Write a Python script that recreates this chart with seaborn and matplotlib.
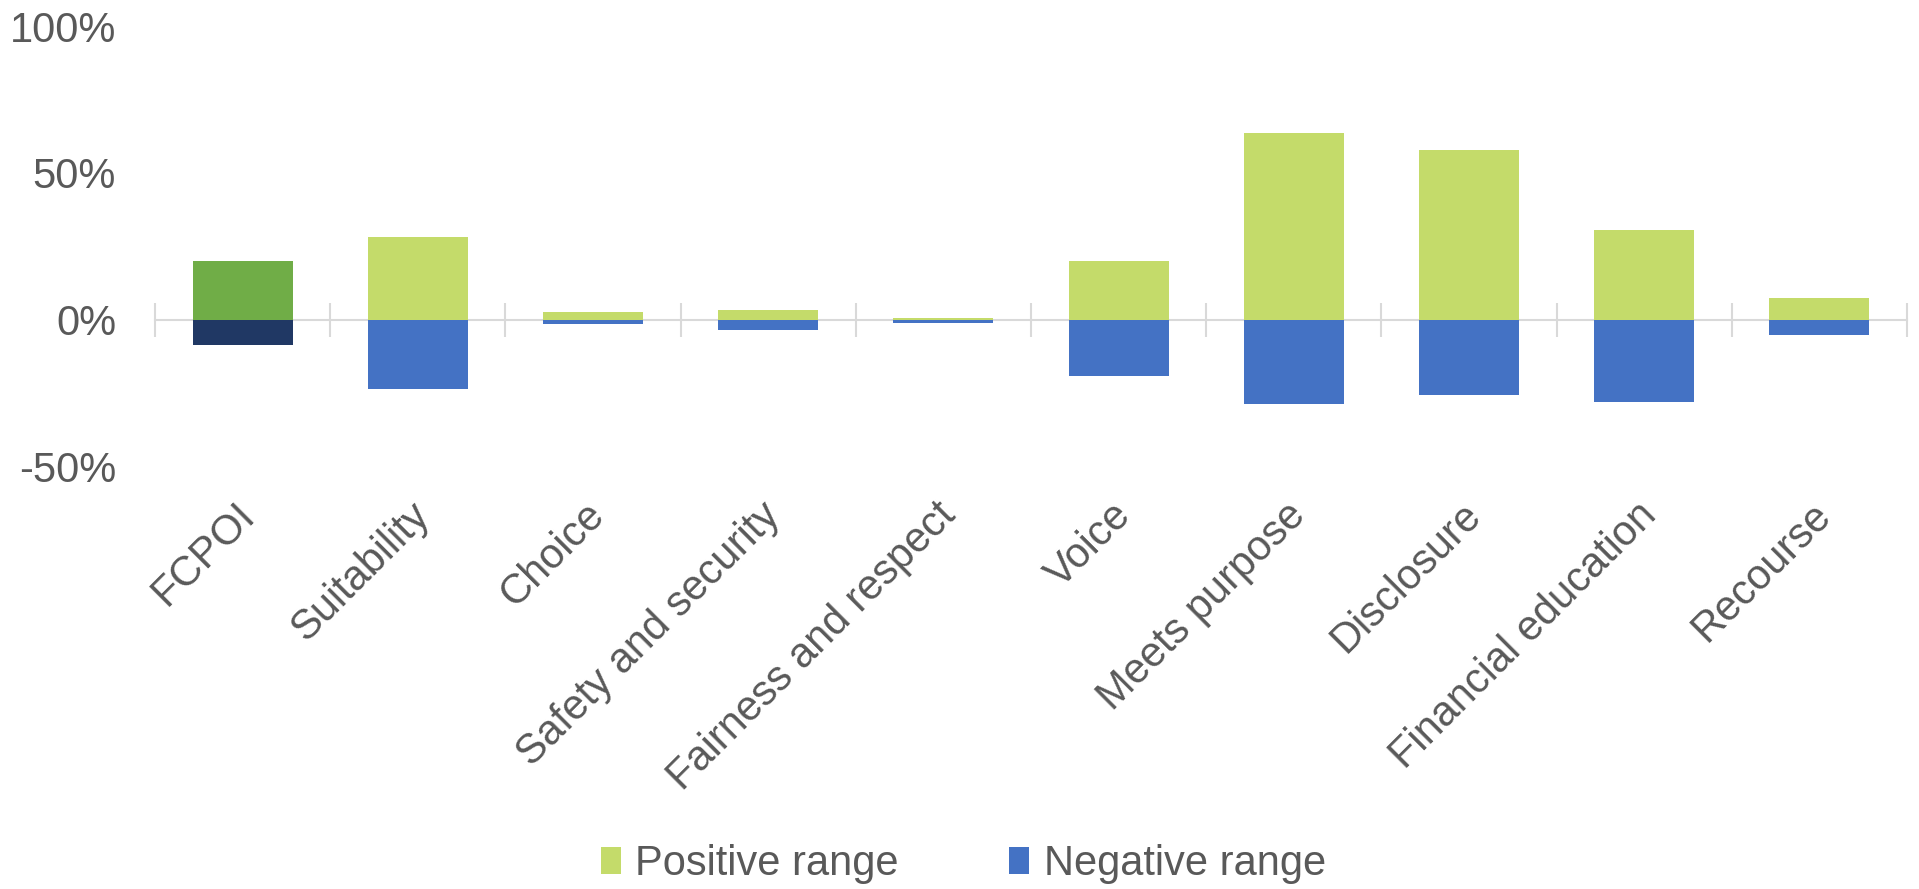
import numpy as np
import pandas as pd
import matplotlib.pyplot as plt
import matplotlib.transforms as mtransforms
import seaborn as sns

categories = ['FCPOI', 'Suitability', 'Choice', 'Safety and security',
              'Fairness and respect', 'Voice', 'Meets purpose', 'Disclosure',
              'Financial education', 'Recourse']
positive = [20.0, 28.0, 2.5, 3.2, 0.5, 20.0, 63.8, 58.0, 30.4, 7.4]
negative = [-8.6, -23.8, -1.4, -3.5, -1.2, -19.2, -28.8, -25.6, -28.0, -5.4]
series = ['Positive range', 'Negative range']
yticks = [-50, 0, 50, 100]

pos_color = '#C4DB6A'
neg_color = '#4472C4'
fcpoi_pos = '#70AD47'
fcpoi_neg = '#203864'
text_color = '#595959'
axis_color = '#D9D9D9'


def main():
  df = pd.DataFrame({
    'category': categories * 2,
    'series': [series[0]] * len(categories) + [series[1]] * len(categories),
    'value': positive + negative,
  })

  sns.set_style('white')
  plt.rcParams['font.family'] = ['Liberation Sans', 'DejaVu Sans']

  fig = plt.figure(figsize=(19.19, 8.89), dpi=100)
  ax = fig.add_axes([0.0808, 0.4758, 0.9129, 0.4944])

  sns.barplot(data=df, x='category', y='value', hue='series', dodge=False,
              palette=[pos_color, neg_color], saturation=1, width=0.57, ax=ax,
              edgecolor='none', linewidth=0)

  # FCPOI bars are drawn in darker shades
  ax.containers[0][0].set_facecolor(fcpoi_pos)
  ax.containers[1][0].set_facecolor(fcpoi_neg)

  ax.set_xlim(-0.5, len(categories) - 0.5)
  ax.set_ylim(-50, 100)
  ax.set_yticks(yticks)
  ax.set_yticklabels([f'{v}%' for v in yticks])
  ax.set_xlabel('')
  ax.set_ylabel('')
  for s in ax.spines.values():
    s.set_visible(False)

  ax.tick_params(axis='y', length=0, labelsize=30, labelcolor=text_color, pad=28)
  ax.tick_params(axis='x', length=0, labelsize=30, labelcolor=text_color, pad=31)
  shift = mtransforms.ScaledTranslation(6 / 100, 0, fig.dpi_scale_trans)
  for lbl in ax.get_xticklabels():
    lbl.set_rotation(45)
    lbl.set_ha('right')
    lbl.set_va('center')
    lbl.set_rotation_mode('anchor')
    lbl.set_transform(lbl.get_transform() + shift)

  # zero line with boundary tick marks
  zero = ax.secondary_xaxis(1 / 3)
  zero.set_xticks(np.arange(-0.5, len(categories), 1))
  zero.set_xticklabels([])
  zero.tick_params(axis='x', direction='inout', length=25, width=1.5,
                   color=axis_color)
  zero.spines['bottom'].set_color(axis_color)
  zero.spines['bottom'].set_linewidth(1.5)

  handles, labels = ax.get_legend_handles_labels()
  ax.legend(handles, labels, loc='center', bbox_to_anchor=(0.502, 0.028),
            bbox_transform=fig.transFigure, ncol=2, frameon=False,
            handlelength=0.48, handleheight=0.6, handletextpad=0.34,
            columnspacing=2.66, fontsize=30, labelcolor=text_color)

  fig.savefig('out.png', dpi=100)


if __name__ == '__main__':
  main()
